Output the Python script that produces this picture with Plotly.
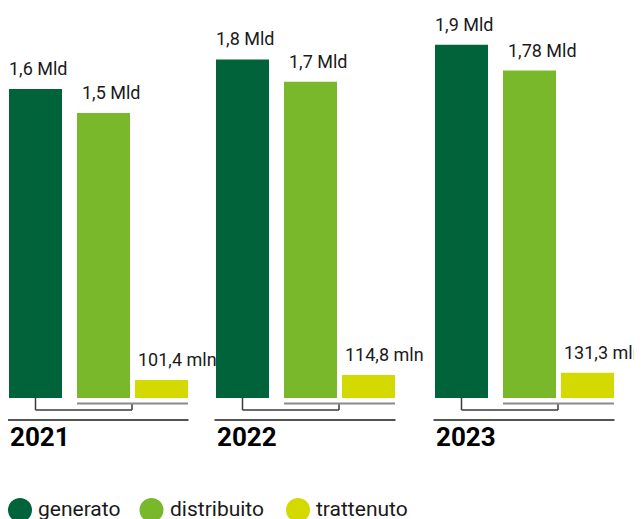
import plotly.graph_objects as go

# ---- data ----
years = ["2021", "2022", "2023"]
generato = [1.67, 1.83, 1.91]
distribuito = [1.54, 1.71, 1.77]
trattenuto = [0.097, 0.124, 0.137]
gen_labels = ["1,6 Mld", "1,8 Mld", "1,9 Mld"]
dist_labels = ["1,5 Mld", "1,7 Mld", "1,78 Mld"]
tratt_labels = ["101,4 mln", "114,8 mln", "131,3 mln"]
series_names = ["generato", "distribuito", "trattenuto"]

# ---- style / layout constants ----
W, H = 642, 519
PAGE = 8.0          # page body margin offset
UX = 213.0          # px per category
UY = 185.0          # px per unit value
BASE_PX = 398.0     # screen row of value 0
C0_PX = 98.5        # screen column of first category centre
GROUP_SHIFT = [0, -6, 0]   # px nudge of each group
colors = ["#00633a", "#7ab82b", "#d4d900"]
FONT = "Roboto"
TXT = "#1a1a1a"

bw = 53 / UX
offsets = [-89.5 / UX, -21.5 / UX, 36.5 / UX]
label_dx = [0, 5, 3]
gs = [s / UX for s in GROUP_SHIFT]

def py(p):  # screen pixel row -> data y
    return (BASE_PX - p) / UY

x_range = [-(C0_PX - PAGE) / UX, (W - (C0_PX - PAGE)) / UX]
y_range = [(BASE_PX - PAGE - H) / UY, (BASE_PX - PAGE) / UY]

fig = go.Figure()
for name, vals, col, off in zip(series_names, [generato, distribuito, trattenuto], colors, offsets):
    fig.add_trace(go.Bar(x=years, y=vals, name=name, marker=dict(color=col, line=dict(width=0)),
                         width=bw, offset=[off + g for g in gs], showlegend=False, hoverinfo="skip"))

annotations = []
shapes = []
for i in range(len(years)):
    c = i + gs[i]
    # value labels
    for vals, labs, off, dx in zip([generato, distribuito, trattenuto],
                                   [gen_labels, dist_labels, tratt_labels], offsets, label_dx):
        annotations.append(dict(x=c + off, y=vals[i], xref="x", yref="y", text=labs[i],
                                showarrow=False, xanchor="left", yanchor="bottom",
                                xshift=dx - 2, yshift=8, font=dict(family=FONT, size=18, color=TXT)))
    # year labels
    annotations.append(dict(x=c + offsets[0], y=py(437), xref="x", yref="y", text="<b>%s</b>" % years[i],
                            showarrow=False, xanchor="left", yanchor="middle", xshift=-1,
                            font=dict(family=FONT, size=26, color="#000000")))
    gen_c = c + offsets[0] + bw / 2
    br_x = c + 33.5 / UX
    # bracket
    shapes.append(dict(type="line", xref="x", yref="y", x0=gen_c, x1=gen_c, y0=0, y1=py(410),
                       line=dict(color="#3a3a3a", width=1.5)))
    shapes.append(dict(type="line", xref="x", yref="y", x0=gen_c, x1=br_x, y0=py(410), y1=py(410),
                       line=dict(color="#3a3a3a", width=1.5)))
    shapes.append(dict(type="line", xref="x", yref="y", x0=br_x, x1=br_x, y0=py(410), y1=py(403.5),
                       line=dict(color="#3a3a3a", width=1.5)))
    # grey line under distribuito + trattenuto
    shapes.append(dict(type="line", xref="x", yref="y", x0=c + offsets[1], x1=c + offsets[2] + bw,
                       y0=py(403.5), y1=py(403.5), line=dict(color="#8a8a8a", width=2)))
    # black baseline
    shapes.append(dict(type="line", xref="x", yref="y", x0=c - 91 / UX, x1=c + 90 / UX,
                       y0=py(420), y1=py(420), line=dict(color="#1a1a1a", width=1.5)))

# legend (drawn)
leg_cx = [20, 151.5, 298]
leg_tx = [36, 168, 314]
for name, col, cx, tx in zip(series_names, colors, leg_cx, leg_tx):
    shapes.append(dict(type="circle", xref="paper", yref="y", xsizemode="pixel", ysizemode="pixel",
                       xanchor=(cx - PAGE) / W, yanchor=py(510), x0=-12, x1=12, y0=-12, y1=12,
                       fillcolor=col, line=dict(width=0)))
    annotations.append(dict(x=(tx - PAGE) / W, y=py(510), xref="paper", yref="y", text=name, showarrow=False,
                            xanchor="left", yanchor="middle", yshift=1,
                            font=dict(family=FONT, size=21, color=TXT)))

fig.update_layout(
    width=W, height=H, margin=dict(l=0, r=0, t=0, b=0),
    paper_bgcolor="white", plot_bgcolor="white", barmode="overlay",
    xaxis=dict(type="category", range=x_range, visible=False, showgrid=False, zeroline=False),
    yaxis=dict(range=y_range, visible=False, showgrid=False, zeroline=False),
    annotations=annotations, shapes=shapes,
)
fig.write_html("out.html")
